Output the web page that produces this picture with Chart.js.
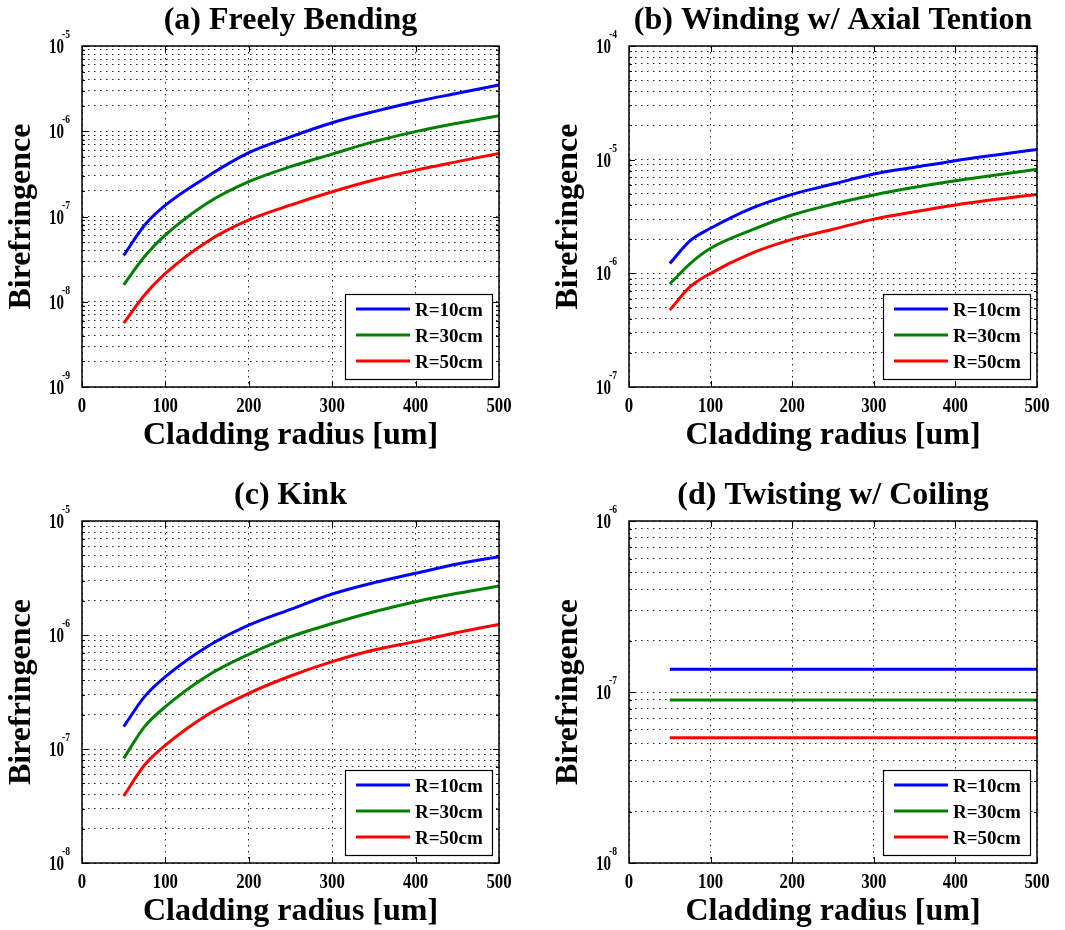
<!DOCTYPE html>
<html>
<head>
<meta charset="utf-8">
<script src="https://cdn.jsdelivr.net/npm/chart.js@4/dist/chart.umd.min.js"></script>
<style>
  body { margin: 0; background: #fff; }
  #wrap { position: relative; width: 1065px; height: 930px; background: #fff; }
  .panel { position: absolute; width: 532px; height: 465px; }
</style>
</head>
<body>
<div id="wrap">
  <div class="panel" style="left:0;top:0"><canvas id="cA" width="532" height="465"></canvas></div>
  <div class="panel" style="left:532px;top:0"><canvas id="cB" width="532" height="465"></canvas></div>
  <div class="panel" style="left:0;top:465px"><canvas id="cC" width="532" height="465"></canvas></div>
  <div class="panel" style="left:532px;top:465px"><canvas id="cD" width="532" height="465"></canvas></div>
</div>
<script>
// data
const seriesLabels = ["R=10cm", "R=30cm", "R=50cm"];
const seriesColors = ["#0000ff", "#008000", "#ff0000"];
const xTicks = [0, 100, 200, 300, 400, 500];

const radius = [50, 75, 100, 150, 200, 250, 300, 350, 400, 450, 500];

// (a) freely bending
const bendR10 = [3.5e-8, 7.9e-8, 1.36e-7, 2.93e-7, 5.6e-7, 8.6e-7, 1.26e-6, 1.7e-6, 2.22e-6, 2.79e-6, 3.49e-6];
const bendR30 = [1.58e-8, 3.4e-8, 6.07e-8, 1.43e-7, 2.56e-7, 3.84e-7, 5.4e-7, 7.55e-7, 9.9e-7, 1.24e-6, 1.52e-6];
const bendR50 = [5.6e-9, 1.2e-8, 2.15e-8, 5.07e-8, 9.1e-8, 1.36e-7, 1.95e-7, 2.68e-7, 3.5e-7, 4.4e-7, 5.5e-7];
const bendDecades = [-9, -8, -7, -6, -5];

// (b) winding with axial tension
const windR10 = [1.22e-6, 1.94e-6, 2.49e-6, 3.73e-6, 4.95e-6, 6.1e-6, 7.48e-6, 8.57e-6, 9.8e-6, 1.1e-5, 1.23e-5];
const windR30 = [8.05e-7, 1.22e-6, 1.66e-6, 2.4e-6, 3.26e-6, 4.07e-6, 4.89e-6, 5.71e-6, 6.53e-6, 7.33e-6, 8.22e-6];
const windR50 = [4.75e-7, 7.63e-7, 1.0e-6, 1.5e-6, 1.99e-6, 2.44e-6, 3.0e-6, 3.48e-6, 3.99e-6, 4.48e-6, 4.95e-6];
const windDecades = [-7, -6, -5, -4];

// (c) kink
const kinkR10 = [1.57e-7, 2.88e-7, 4.31e-7, 7.9e-7, 1.22e-6, 1.68e-6, 2.29e-6, 2.88e-6, 3.48e-6, 4.2e-6, 4.86e-6];
const kinkR30 = [8.28e-8, 1.57e-7, 2.35e-7, 4.37e-7, 6.76e-7, 9.66e-7, 1.26e-6, 1.6e-6, 1.96e-6, 2.32e-6, 2.69e-6];
const kinkR50 = [3.87e-8, 7.24e-8, 1.08e-7, 1.99e-7, 3.08e-7, 4.37e-7, 5.84e-7, 7.38e-7, 8.75e-7, 1.05e-6, 1.24e-6];
const kinkDecades = [-8, -7, -6, -5];

// (d) twisting with coiling
const twistRadius = [50, 500];
const twistR10 = [1.36e-7, 1.36e-7];
const twistR30 = [8.98e-8, 8.98e-8];
const twistR50 = [5.4e-8, 5.4e-8];
const twistDecades = [-8, -7, -6];

const FONT = '"Liberation Serif", "Times New Roman", serif';
const gridColor = "rgba(0,0,0,0.85)";

function logTicks(decades) {
  let out = [];
  for (let i = 0; i < decades.length - 1; i++) {
    for (let k = 1; k <= 9; k++) out.push(Number((k * Math.pow(10, decades[i])).toPrecision(3)));
  }
  out.push(Math.pow(10, decades[decades.length - 1]));
  return out;
}

function isDecade(v) {
  let l = Math.log10(v);
  return Math.abs(l - Math.round(l)) < 1e-6;
}

const panelDecor = {
  id: "panelDecor",
  afterDraw(chart, args, o) {
    const ctx = chart.ctx;
    const a = chart.chartArea;
    const x = chart.scales.x, y = chart.scales.y;
    ctx.save();

    // tick marks inside the box
    ctx.strokeStyle = "#000";
    ctx.lineWidth = 1;
    ctx.beginPath();
    y.ticks.forEach(t => {
      let py = Math.round(y.getPixelForValue(t.value)) + 0.5;
      let len = isDecade(t.value) ? 6 : 3;
      ctx.moveTo(a.left, py); ctx.lineTo(a.left + len, py);
      ctx.moveTo(a.right, py); ctx.lineTo(a.right - len, py);
    });
    xTicks.forEach(v => {
      let px = Math.round(x.getPixelForValue(v)) + 0.5;
      ctx.moveTo(px, a.bottom); ctx.lineTo(px, a.bottom - 6);
      ctx.moveTo(px, a.top); ctx.lineTo(px, a.top + 6);
    });
    ctx.stroke();

    // axes box
    ctx.lineWidth = 1.5;
    ctx.strokeRect(a.left, a.top, a.right - a.left, a.bottom - a.top);

    ctx.fillStyle = "#000";

    // y tick labels 10^n
    o.decades.forEach(e => {
      let py = y.getPixelForValue(Math.pow(10, e));
      ctx.save();
      ctx.font = "bold 20px " + FONT;
      ctx.textAlign = "right";
      ctx.translate(a.left - 18, py + 7);
      ctx.scale(0.75, 1);
      ctx.fillText("10", 0, 0);
      ctx.restore();
      ctx.save();
      ctx.font = "bold 12px " + FONT;
      ctx.textAlign = "left";
      ctx.translate(a.left - 20, py - 8);
      ctx.scale(0.8, 1);
      ctx.fillText(String(e), 0, 0);
      ctx.restore();
    });

    // x tick labels
    xTicks.forEach(v => {
      let px = x.getPixelForValue(v);
      ctx.save();
      ctx.font = "bold 21px " + FONT;
      ctx.textAlign = "center";
      ctx.translate(px, a.bottom + 25);
      ctx.scale(0.8, 1);
      ctx.fillText(String(v), 0, 0);
      ctx.restore();
    });

    // titles
    ctx.font = "bold 32px " + FONT;
    ctx.textAlign = "center";
    ctx.textBaseline = "alphabetic";
    ctx.fillText(o.title, (a.left + a.right) / 2, a.top - 17);
    ctx.fillText("Cladding radius [um]", (a.left + a.right) / 2, a.bottom + 57);
    ctx.save();
    ctx.translate(a.left - 52, (a.top + a.bottom) / 2);
    ctx.rotate(-Math.PI / 2);
    ctx.fillText("Birefringence", 0, 0);
    ctx.restore();

    // legend box, bottom right
    let bw = 147, bh = 85;
    let bx = a.right - 7 - bw, by = a.bottom - 8 - bh;
    ctx.fillStyle = "#fff";
    ctx.fillRect(bx, by, bw, bh);
    ctx.strokeStyle = "#000";
    ctx.lineWidth = 1.2;
    ctx.strokeRect(bx + 0.5, by + 0.5, bw, bh);
    ctx.font = "bold 19px " + FONT;
    ctx.textAlign = "left";
    ctx.textBaseline = "middle";
    chart.data.datasets.forEach((ds, i) => {
      let ly = by + 15 + i * 26;
      ctx.strokeStyle = ds.borderColor;
      ctx.lineWidth = 3;
      ctx.beginPath();
      ctx.moveTo(bx + 11, ly);
      ctx.lineTo(bx + 65, ly);
      ctx.stroke();
      ctx.fillStyle = "#000";
      ctx.fillText(ds.label, bx + 70, ly + 2);
    });

    ctx.restore();
  }
};

function makePanel(id, p) {
  const datasets = p.series.map((vals, i) => ({
    label: seriesLabels[i],
    data: vals.map((v, j) => ({ x: p.radius[j], y: v })),
    borderColor: seriesColors[i],
    borderWidth: 3,
    pointRadius: 0,
    cubicInterpolationMode: "monotone",
    fill: false
  }));
  return new Chart(document.getElementById(id), {
    type: "line",
    data: { datasets: datasets },
    options: {
      responsive: false,
      animation: false,
      events: [],
      layout: { padding: { left: 0, top: p.area.top, right: 532 - p.area.right, bottom: 0 } },
      plugins: {
        legend: { display: false },
        tooltip: { enabled: false },
        title: { display: false },
        panelDecor: { title: p.title, decades: p.decades }
      },
      scales: {
        x: {
          type: "linear",
          min: 0,
          max: 500,
          afterBuildTicks: s => { s.ticks = xTicks.map(v => ({ value: v })); },
          afterFit: s => { s.height = 465 - p.area.bottom; },
          ticks: { display: false },
          grid: { color: gridColor, lineWidth: 1, drawTicks: false },
          border: { display: false, dash: [1.5, 4.5] }
        },
        y: {
          type: "logarithmic",
          min: Math.pow(10, p.decades[0]),
          max: Math.pow(10, p.decades[p.decades.length - 1]),
          afterBuildTicks: s => { s.ticks = logTicks(p.decades).map(v => ({ value: v })); },
          afterFit: s => { s.width = p.area.left; },
          ticks: { display: false },
          grid: { color: gridColor, lineWidth: 1, drawTicks: false },
          border: { display: false, dash: [1.5, 4.5] }
        }
      }
    },
    plugins: [panelDecor]
  });
}

makePanel("cA", {
  title: "(a) Freely Bending",
  radius: radius,
  series: [bendR10, bendR30, bendR50],
  decades: bendDecades,
  area: { left: 82, top: 46, right: 499, bottom: 387 }
});
makePanel("cB", {
  title: "(b) Winding w/ Axial Tention",
  radius: radius,
  series: [windR10, windR30, windR50],
  decades: windDecades,
  area: { left: 97, top: 46, right: 505, bottom: 387 }
});
makePanel("cC", {
  title: "(c) Kink",
  radius: radius,
  series: [kinkR10, kinkR30, kinkR50],
  decades: kinkDecades,
  area: { left: 82, top: 56, right: 499, bottom: 398 }
});
makePanel("cD", {
  title: "(d) Twisting w/ Coiling",
  radius: twistRadius,
  series: [twistR10, twistR30, twistR50],
  decades: twistDecades,
  area: { left: 97, top: 56, right: 505, bottom: 398 }
});
</script>
</body>
</html>
